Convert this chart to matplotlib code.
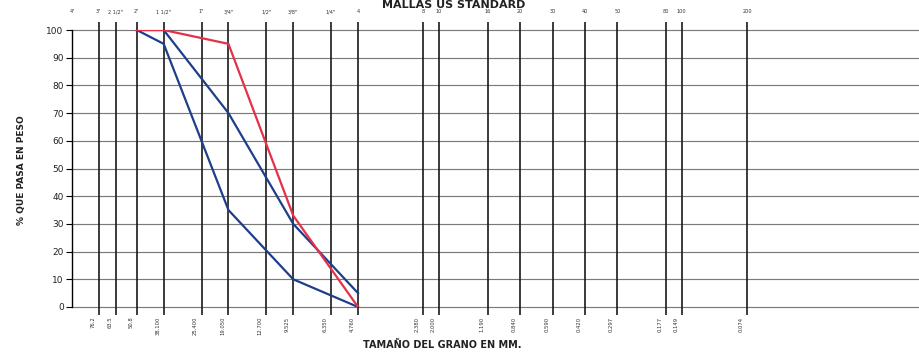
import numpy as np
import matplotlib
matplotlib.use("Agg")
import matplotlib.pyplot as plt
import matplotlib.transforms as mtransforms

# sieve openings (mm) and their US standard names
sieve_mm = [101.6, 76.2, 63.5, 50.8, 38.1, 25.4, 19.05, 12.7, 9.525, 6.35, 4.76,
            2.38, 2.0, 1.19, 0.84, 0.59, 0.42, 0.297, 0.177, 0.149, 0.074]
sieve_names = ['4"', '3"', '2 1/2"', '2"', '1 1/2"', '1"', '3/4"', '1/2"', '3/8"', '1/4"', '4',
               '8', '10', '16', '20', '30', '40', '50', '80', '100', '200']
mm_labels = ['', '76.2', '63.5', '50.8', '38.100', '25.400', '19.050', '12.700', '9.525', '6.350',
             '4.760', '2.380', '2.000', '1.190', '0.840', '0.590', '0.420', '0.297', '0.177',
             '0.149', '0.074']

# gradation curves
curve_mm = [50.8, 38.1, 19.05, 9.525, 4.76]
lower_limit = [100, 95, 35, 10, 0]
upper_limit = [100, 100, 70, 30, 5]
sample = [100, 100, 95, 33, 0]

y_ticks = list(range(0, 101, 10))

fig = plt.figure(figsize=(9.2, 3.52), dpi=100)
ax = fig.add_axes([72 / 920, 45 / 352, 846 / 920, 277 / 352])
ax.set_xscale('log')
ax.set_xlim(101.6, 0.0119)
ax.set_ylim(0, 100)

# horizontal grid
for v in y_ticks:
    ax.axhline(v, color='#7a7a7a', lw=0.85, zorder=1, clip_on=False)

# vertical sieve lines (stick out a bit above and below)
ax.vlines(sieve_mm[1:], -3, 103, colors='#1a1a1a', lw=1.2, zorder=2, clip_on=False)

ax.plot(curve_mm, lower_limit, color='#1d3f8a', lw=1.6, zorder=3)
ax.plot(curve_mm, upper_limit, color='#1d3f8a', lw=1.6, zorder=3)
ax.plot(curve_mm, sample, color='#e5304a', lw=1.6, zorder=4)

# top labels: sieve names
for s, name in zip(sieve_mm, sieve_names):
    ax.text(s, 106.5, name, ha='center', va='center', fontsize=3.6, color='#333333', clip_on=False)

# bottom labels: opening in mm, rotated
off = mtransforms.offset_copy(ax.transData, fig=fig, x=-6, y=0, units='dots')
for s, lab in zip(sieve_mm, mm_labels):
    if lab:
        ax.text(s, -3.5, lab, transform=off, rotation=90, ha='center', va='top',
                fontsize=3.8, color='#333333', clip_on=False)

ax.set_yticks(y_ticks)
ax.set_yticklabels([str(v) for v in y_ticks], fontsize=6.5, color='#222222')
ax.tick_params(axis='y', length=4, width=0.8, pad=2)
ax.set_xticks([])
ax.xaxis.set_minor_locator(matplotlib.ticker.NullLocator())

for side in ['top', 'right', 'bottom']:
    ax.spines[side].set_visible(False)
ax.spines['left'].set_linewidth(1.0)

fig.text(22 / 920, (352 - 170) / 352, '% QUE PASA EN PESO', rotation=90,
         ha='center', va='center', fontsize=6.5, fontweight='bold', color='#222222')
fig.text(442 / 920, 1 - 345 / 352, 'TAMAÑO DEL GRANO EN MM.', ha='center', va='center',
         fontsize=7, fontweight='bold', color='#222222')
fig.text(454 / 920, 1 - 0.5 / 352, 'MALLAS US STANDARD', ha='center', va='top',
         fontsize=8, fontweight='bold', color='#222222')

fig.savefig('out.png', dpi=100, facecolor='white')
